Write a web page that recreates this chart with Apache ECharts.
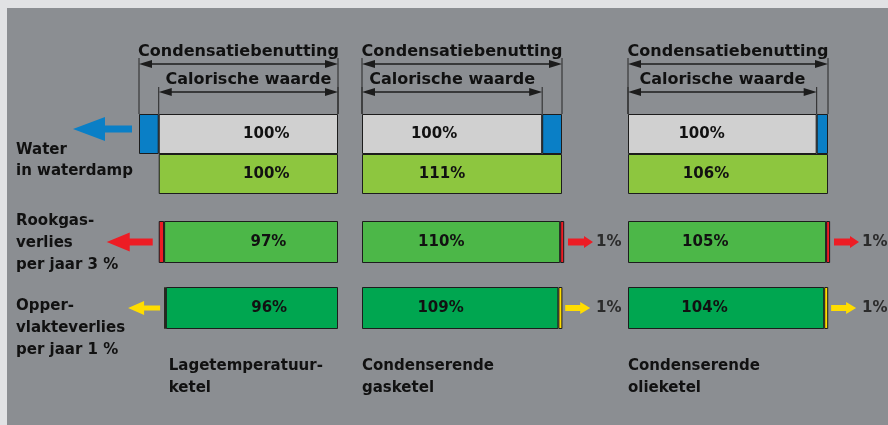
<!DOCTYPE html>
<html>
<head>
<meta charset="utf-8">
<script src="https://cdn.jsdelivr.net/npm/echarts@6/dist/echarts.min.js"></script>
<style>
  html, body { margin: 0; padding: 0; background: #e1e2e4; }
  #chart { width: 888px; height: 425px; }
</style>
</head>
<body>
<div id="chart"></div>
<script>
// kolommen (ketels)
const ketels = ['Lagetemperatuur-\nketel', 'Condenserende\ngasketel', 'Condenserende\nolieketel'];
const condenseert = [false, true, true];
// bovenste balk: calorische waarde + water in waterdamp
const calorisch = [100, 100, 100];
const waterdamp = [11, 11, 6];
// tweede balk
const benut = [100, 111, 106];
// rookgasverlies
const rookgasNuttig = [97, 110, 105];
const rookgasVerlies = [3, 1, 1];
// oppervlakteverlies
const opperNuttig = [96, 109, 104];
const opperVerlies = [1, 1, 1];
const rijen = ['Calorische waarde', 'Benut', 'Rookgasverlies', 'Oppervlakteverlies'];
const kopTeksten = ['Condensatiebenutting', 'Calorische waarde'];

const kl = {
  grijs: '#d0d0d0', blauw: '#0a7fc6', groen1: '#8dc63f', groen2: '#4cb748',
  groen3: '#00a650', rood: '#ed1c24', geel: '#ffdd00', rand: '#1c1c1c'
};
const FONT = '"DejaVu Sans", sans-serif';
const labelPos = ['60%', '40%', '39%'];

function seg(value, color, label) { return { value: value, color: color, label: !!label }; }

function rijSegmenten(c) {
  const off = waterdamp[c];
  if (condenseert[c]) {
    return [
      [seg(calorisch[c], kl.grijs, true), seg(waterdamp[c], kl.blauw)],
      [seg(benut[c], kl.groen1, true)],
      [seg(rookgasNuttig[c], kl.groen2, true), seg(rookgasVerlies[c], kl.rood)],
      [seg(opperNuttig[c], kl.groen3, true), seg(opperVerlies[c], kl.geel)]
    ];
  }
  return [
    [seg(waterdamp[c], kl.blauw), seg(calorisch[c], kl.grijs, true)],
    [seg(off, null), seg(benut[c], kl.groen1, true)],
    [seg(off, null), seg(rookgasVerlies[c], kl.rood), seg(rookgasNuttig[c], kl.groen2, true)],
    [seg(off + rookgasVerlies[c], null), seg(opperVerlies[c], kl.geel), seg(opperNuttig[c], kl.groen3, true)]
  ];
}

function item(s, c) {
  if (!s) return { value: 0, itemStyle: { color: 'transparent', borderWidth: 0 }, label: { show: false } };
  return {
    value: s.value,
    itemStyle: {
      color: s.color || 'transparent',
      borderColor: s.color ? kl.rand : 'transparent',
      borderWidth: s.color ? 1 : 0
    },
    label: {
      show: s.label,
      formatter: s.value + '%',
      position: [labelPos[c], '50%'],
      align: 'center',
      verticalAlign: 'middle',
      fontFamily: FONT,
      fontWeight: 'bold',
      fontSize: 15,
      color: '#111'
    }
  };
}

const kolLeft = [139, 362, 628];
const kolWidth = [199, 200, 200];
const totaal = calorisch.map((v, i) => v + waterdamp[i]);

const grids = [], xAxes = [], yAxes = [], series = [];
for (let p = 0; p < 2; p++) {
  for (let c = 0; c < 3; c++) {
    const g = p * 3 + c;
    grids.push({
      left: kolLeft[c], width: kolWidth[c],
      top: p === 0 ? 114 : 209, height: p === 0 ? 80 : 132
    });
    xAxes.push({ gridIndex: g, type: 'value', min: 0, max: totaal[c], show: false });
    yAxes.push({ gridIndex: g, type: 'category', inverse: true, show: false, data: rijen.slice(p * 2, p * 2 + 2) });
    const rows = rijSegmenten(c).slice(p * 2, p * 2 + 2);
    for (let k = 0; k < 3; k++) {
      series.push({
        type: 'bar',
        xAxisIndex: g,
        yAxisIndex: g,
        stack: 's' + g,
        barWidth: p === 0 ? 40 : 42,
        // kleine verliesstrookjes zichtbaar houden
        barMinHeight: (p === 1 && condenseert[c] && k === 1) ? 4 : 0,
        clip: false,
        silent: true,
        label: { show: false },
        data: rows.map(r => item(r[k], c))
      });
    }
  }
}

const chart = echarts.init(document.getElementById('chart'));
chart.setOption({
  animation: false,
  backgroundColor: '#8b8e92',
  grid: grids,
  xAxis: xAxes,
  yAxis: yAxes,
  series: series
});

// hulpfuncties voor de tekening rond de balken
const px = (ax, v) => chart.convertToPixel({ xAxisIndex: ax }, v);
const rowY = (ax, i) => chart.convertToPixel({ yAxisIndex: ax }, i);

function tekst(x, y, t, opts) {
  opts = opts || {};
  return {
    type: 'text', x: x, y: y, z: 100,
    style: {
      text: t,
      font: 'bold ' + (opts.size || 15) + 'px ' + FONT,
      fill: opts.fill || '#111',
      lineHeight: opts.lh || 22,
      align: opts.align || 'left', textAlign: opts.align || 'left',
      verticalAlign: opts.va || 'top', textVerticalAlign: opts.va || 'top'
    }
  };
}
function lijn(x1, y1, x2, y2, w) {
  return { type: 'line', z: 100, shape: { x1: x1, y1: y1, x2: x2, y2: y2 }, style: { stroke: '#262626', lineWidth: w || 1 } };
}
function maatPijl(x1, x2, y) {
  const hl = 13, hh = 4;
  return [
    { type: 'line', z: 100, shape: { x1: x1 + hl - 2, y1: y, x2: x2 - hl + 2, y2: y }, style: { stroke: kl.rand, lineWidth: 1.5 } },
    { type: 'polygon', z: 100, shape: { points: [[x1, y], [x1 + hl, y - hh], [x1 + hl, y + hh]] }, style: { fill: kl.rand } },
    { type: 'polygon', z: 100, shape: { points: [[x2, y], [x2 - hl, y - hh], [x2 - hl, y + hh]] }, style: { fill: kl.rand } }
  ];
}
function blokPijl(tail, tip, y, schacht, kopH, kopL, kleur) {
  const d = tip > tail ? 1 : -1;
  const base = tip - d * kopL;
  return {
    type: 'polygon', z: 100,
    shape: { points: [[tail, y - schacht / 2], [base, y - schacht / 2], [base, y - kopH / 2], [tip, y],
      [base, y + kopH / 2], [base, y + schacht / 2], [tail, y + schacht / 2]] },
    style: { fill: kleur }
  };
}

const el = [
  { type: 'rect', z: 0, shape: { x: 0, y: 0, width: 888, height: 8 }, style: { fill: '#e1e2e4' } },
  { type: 'rect', z: 0, shape: { x: 0, y: 0, width: 7, height: 425 }, style: { fill: '#e1e2e4' } }
];

for (let c = 0; c < 3; c++) {
  const x0 = px(c, 0), xEnd = px(c, totaal[c]);
  const calA = px(c, condenseert[c] ? 0 : waterdamp[c]);
  const calB = px(c, condenseert[c] ? calorisch[c] : totaal[c]);
  const barTop = 114;
  // maatlijnen
  el.push(lijn(x0, 58, x0, barTop), lijn(xEnd, 58, xEnd, barTop));
  el.push(lijn(calA, 87, calA, barTop), lijn(calB, 87, calB, barTop));
  el.push(...maatPijl(x0, xEnd, 64), ...maatPijl(calA, calB, 92));
  el.push(tekst((x0 + xEnd) / 2, 52, kopTeksten[0], { size: 16, align: 'center', va: 'middle' }));
  el.push(tekst((calA + calB) / 2, 80, kopTeksten[1], { size: 16, align: 'center', va: 'middle' }));
  // ketelnaam onder
  el.push(tekst(calA + (condenseert[c] ? 0 : 10), 355, ketels[c]));

  const yR = rowY(3 + c, 0), yO = rowY(3 + c, 1);
  if (condenseert[c]) {
    const endR = px(3 + c, rookgasNuttig[c] + rookgasVerlies[c]);
    const endO = px(3 + c, opperNuttig[c] + opperVerlies[c]);
    el.push(blokPijl(endR + 6, endR + 31, yR, 7, 12, 9, kl.rood));
    el.push(blokPijl(endO + 5, endO + 30, yO, 6, 12, 10, kl.geel));
    el.push(tekst(xEnd + 34, yR, rookgasVerlies[c] + '%', { va: 'middle', fill: '#2b2b2b' }));
    el.push(tekst(xEnd + 34, yO, opperVerlies[c] + '%', { va: 'middle', fill: '#2b2b2b' }));
  } else {
    const yW = rowY(c, 0) - 5;
    el.push(blokPijl(x0 - 7, x0 - 66, yW, 7, 24, 32, kl.blauw));
    const startR = px(3 + c, waterdamp[c]);
    const startO = px(3 + c, waterdamp[c] + rookgasVerlies[c]);
    el.push(blokPijl(startR - 6, startR - 52, yR, 7, 19, 23, kl.rood));
    el.push(blokPijl(startO - 4, startO - 36, yO, 5, 14, 16, kl.geel));
  }
}

// rijlabels links
el.push(tekst(16, 140, 'Water\nin waterdamp', { lh: 21 }));
el.push(tekst(16, 210, 'Rookgas-\nverlies\nper jaar ' + rookgasVerlies[0] + ' %'));
el.push(tekst(16, 295, 'Opper-\nvlakteverlies\nper jaar ' + opperVerlies[0] + ' %'));

chart.setOption({ graphic: { elements: el } });
</script>
</body>
</html>
